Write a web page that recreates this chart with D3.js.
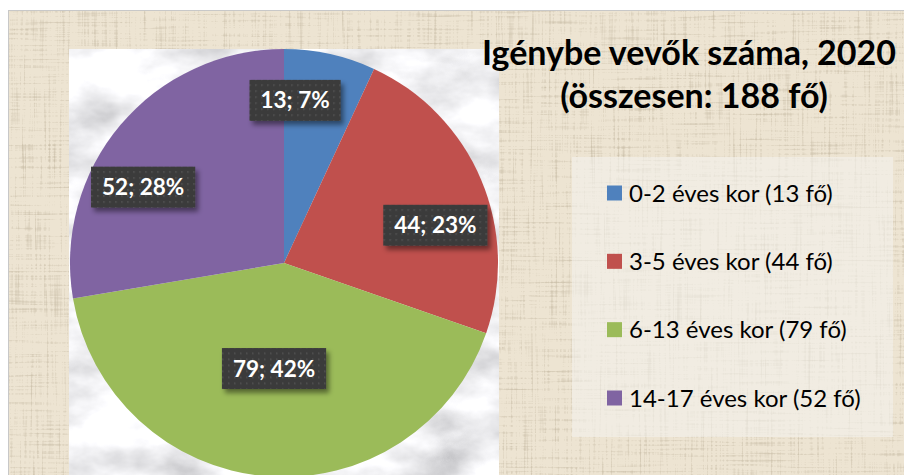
<!DOCTYPE html>
<html>
<head>
<meta charset="utf-8">
<script src="https://cdn.jsdelivr.net/npm/d3@7"></script>
<style>
  body { margin: 0; background: #fff; }
  svg { display: block; }
</style>
</head>
<body>
<svg id="chart"></svg>
<script>
// data
const categories = ['0-2 éves kor', '3-5 éves kor', '6-13 éves kor', '14-17 éves kor'];
const values = [13, 44, 79, 52];
const colors = ['#4f81bd', '#c0504d', '#9bbb59', '#8064a2'];
const year = 2020;

const total = d3.sum(values);
const titleLines = ['Igénybe vevők száma, ' + year, '(összesen: ' + total + ' fő)'];

const width = 904, height = 475;
const font = 'Lato, "Open Sans", sans-serif';
const svg = d3.select('#chart').attr('width', width).attr('height', height);
const defs = svg.append('defs');

// burlap texture
const fb = defs.append('filter').attr('id', 'burlap')
  .attr('x', 0).attr('y', 0).attr('width', '100%').attr('height', '100%');
fb.append('feTurbulence').attr('type', 'fractalNoise').attr('baseFrequency', '0.45 0.015')
  .attr('numOctaves', 2).attr('seed', 3).attr('result', 'v');
fb.append('feTurbulence').attr('type', 'fractalNoise').attr('baseFrequency', '0.015 0.45')
  .attr('numOctaves', 2).attr('seed', 7).attr('result', 'h');
fb.append('feBlend').attr('in', 'v').attr('in2', 'h').attr('mode', 'multiply').attr('result', 'n');
fb.append('feColorMatrix').attr('type', 'matrix')
  .attr('values', '0 0 0 0 0.52  0 0 0 0 0.45  0 0 0 0 0.33  -2.6 0 0 0 1.05');

// marble texture
const fm = defs.append('filter').attr('id', 'marble')
  .attr('x', 0).attr('y', 0).attr('width', '100%').attr('height', '100%');
fm.append('feTurbulence').attr('type', 'fractalNoise').attr('baseFrequency', '0.012 0.02')
  .attr('numOctaves', 5).attr('seed', 11);
fm.append('feColorMatrix').attr('type', 'matrix')
  .attr('values', '0.95 0 0 0 0.4  0.95 0 0 0 0.4  0.95 0 0 0 0.42  0 0 0 0 1');

// dotted pattern for label boxes
const pat = defs.append('pattern').attr('id', 'dots').attr('patternUnits', 'userSpaceOnUse')
  .attr('width', 6).attr('height', 6);
pat.append('rect').attr('width', 6).attr('height', 6).attr('fill', '#3b3b3b');
pat.append('rect').attr('x', 2).attr('y', 2).attr('width', 1.5).attr('height', 1.5).attr('fill', '#555');

const sh = defs.append('filter').attr('id', 'shadow').attr('x', '-20%').attr('y', '-20%')
  .attr('width', '150%').attr('height', '160%');
sh.append('feDropShadow').attr('dx', 3).attr('dy', 4).attr('stdDeviation', 2.5)
  .attr('flood-color', '#000').attr('flood-opacity', 0.45);

// frame + background
svg.append('rect').attr('x', 8).attr('y', 10).attr('width', width - 8).attr('height', height - 10)
  .attr('fill', '#c8c8c8');
svg.append('rect').attr('x', 9).attr('y', 11).attr('width', width - 9).attr('height', height - 11)
  .attr('fill', '#ede4d2');
svg.append('rect').attr('x', 9).attr('y', 11).attr('width', width - 9).attr('height', height - 11)
  .attr('filter', 'url(#burlap)');

// plot area
const plot = {x: 69, y: 49, w: 430, h: height - 49};
svg.append('rect').attr('x', plot.x).attr('y', plot.y).attr('width', plot.w).attr('height', plot.h)
  .attr('filter', 'url(#marble)');

// pie
const R = 214;
const cx = 284, cy = plot.y + R;
const pie = d3.pie().sort(null).value(d => d);
const arcs = pie(values);
const arc = d3.arc().innerRadius(0).outerRadius(R);

const g = svg.append('g').attr('transform', `translate(${cx},${cy})`);
g.selectAll('path').data(arcs).enter().append('path')
  .attr('d', arc)
  .attr('fill', (d, i) => colors[i]);

// data labels (angle in degrees, radius) placed like the original
const labelPolar = [[3.9, 163], [76, 156], [185.4, 106], [298.3, 160]];
const labels = g.selectAll('g.lbl').data(arcs).enter().append('g').attr('class', 'lbl')
  .attr('transform', (d, i) => {
    const a = labelPolar[i][0] * Math.PI / 180, r = labelPolar[i][1];
    return `translate(${r * Math.sin(a)},${-r * Math.cos(a)})`;
  });
labels.each(function(d) {
  const sel = d3.select(this);
  const txt = sel.append('text')
    .attr('text-anchor', 'middle').attr('dy', '0.36em')
    .attr('font-family', font)
    .attr('font-weight', 'bold').attr('font-size', 22.5).attr('fill', '#fff')
    .text(d.value + '; ' + Math.round(d.value / total * 100) + '%');
  const w = txt.node().getComputedTextLength() + 22;
  sel.insert('rect', 'text')
    .attr('x', -w / 2).attr('y', -20.5).attr('width', w).attr('height', 41)
    .attr('fill', 'url(#dots)').attr('filter', 'url(#shadow)');
});

// title
svg.append('text')
  .attr('y', 65)
  .attr('text-anchor', 'middle')
  .attr('font-family', font)
  .attr('font-weight', 'bold').attr('font-size', 34).attr('fill', '#000')
  .selectAll('tspan').data(titleLines).enter().append('tspan')
  .attr('x', (d, i) => i === 0 ? 689 : 694).attr('dy', (d, i) => i === 0 ? 0 : 43)
  .text(d => d);

// legend
svg.append('rect').attr('x', 572).attr('y', 157).attr('width', 321).attr('height', 280)
  .attr('fill', '#f4f1ec').attr('fill-opacity', 0.6);

const legendY = d3.scalePoint().domain(categories).range([193, 398]);
const legend = svg.selectAll('g.leg').data(categories).enter().append('g').attr('class', 'leg')
  .attr('transform', d => `translate(607,${legendY(d)})`);
legend.append('rect').attr('x', 0).attr('y', -7.5).attr('width', 15).attr('height', 15)
  .attr('fill', (d, i) => colors[i]);
legend.append('text').attr('x', 22).attr('dy', '0.36em')
  .attr('font-family', font)
  .attr('font-size', 24).attr('fill', '#000')
  .text((d, i) => d + ' (' + values[i] + ' fő)');
</script>
</body>
</html>
